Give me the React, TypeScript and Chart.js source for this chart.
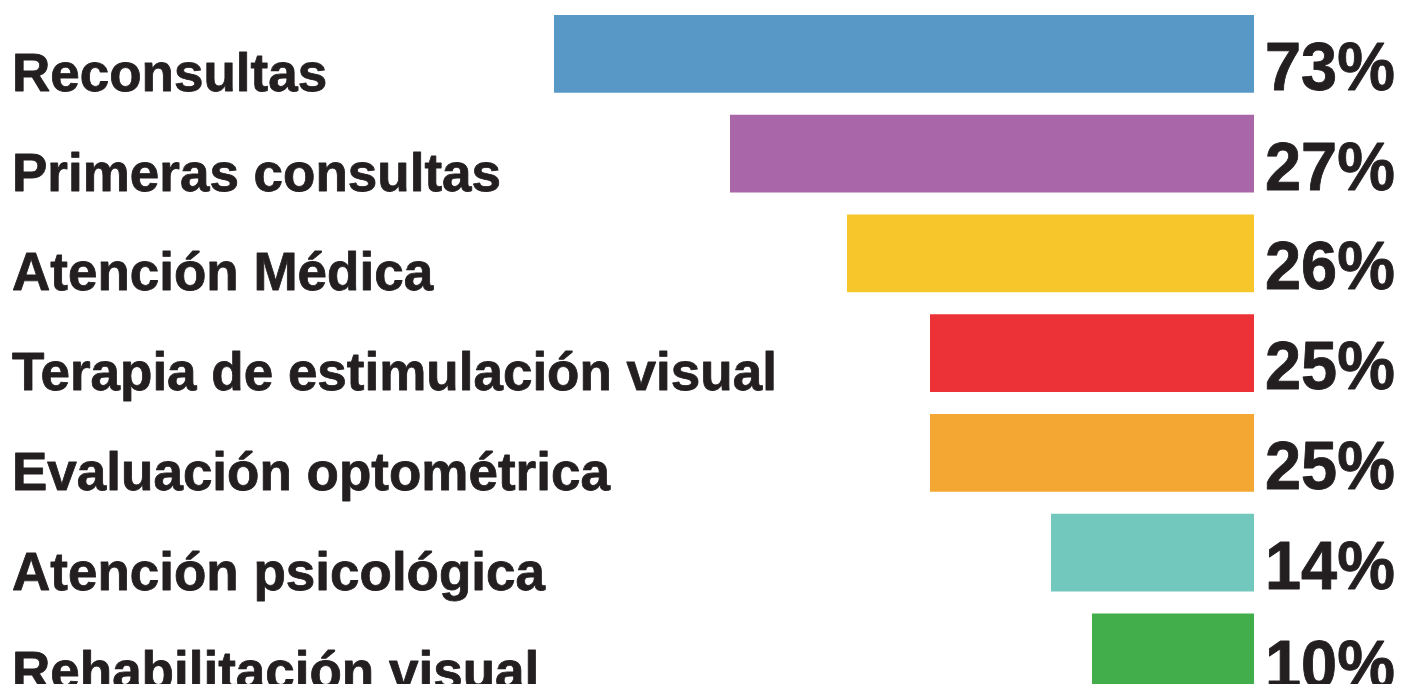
import React, { useEffect, useRef } from "react";
import { Chart, registerables } from "chart.js";

Chart.register(...registerables);

const categories = [
  "Reconsultas",
  "Primeras consultas",
  "Atención Médica",
  "Terapia de estimulación visual",
  "Evaluación optométrica",
  "Atención psicológica",
  "Rehabilitación visual",
];

// bar lengths as drawn (relative units)
const barLengths = [700, 524, 407, 324, 324, 203, 162];

const percentLabels = ["73%", "27%", "26%", "25%", "25%", "14%", "10%"];

const barColors = [
  "#5898c7",
  "#a967aa",
  "#f6c62b",
  "#ec3237",
  "#f5a733",
  "#72c8bd",
  "#41ae4b",
];

const TEXT_COLOR = "#231f20";

const sideLabels = {
  id: "sideLabels",
  afterDatasetsDraw(chart: any) {
    const { ctx, chartArea, scales } = chart;
    const yScale = scales.y;
    ctx.save();
    ctx.fillStyle = TEXT_COLOR;
    ctx.strokeStyle = TEXT_COLOR;
    ctx.lineJoin = "round";
    ctx.textBaseline = "alphabetic";
    categories.forEach((name, i) => {
      const cy = yScale.getPixelForValue(i);
      ctx.font = "bold 53px 'Liberation Sans', Arial, sans-serif";
      ctx.textAlign = "left";
      ctx.lineWidth = 0.8;
      ctx.fillText(name, 12, cy + 37);
      ctx.strokeText(name, 12, cy + 37);

      ctx.save();
      ctx.translate(chartArea.right + 11, cy + 36);
      ctx.scale(0.94, 1);
      ctx.font = "bold 69px 'Liberation Sans', Arial, sans-serif";
      ctx.textAlign = "left";
      ctx.lineWidth = 0.9;
      ctx.fillText(percentLabels[i], 0, 0);
      ctx.strokeText(percentLabels[i], 0, 0);
      ctx.restore();
    });
    ctx.restore();
  },
};

export default function App() {
  const canvasRef = useRef<HTMLCanvasElement | null>(null);

  useEffect(() => {
    if (!canvasRef.current) return;
    const chart = new Chart(canvasRef.current, {
      type: "bar",
      data: {
        labels: categories,
        datasets: [
          {
            data: barLengths,
            backgroundColor: barColors,
            borderWidth: 0,
            categoryPercentage: 1,
            barPercentage: 0.78,
          },
        ],
      },
      options: {
        indexAxis: "y",
        responsive: false,
        animation: false,
        devicePixelRatio: 1,
        layout: {
          padding: { left: 14, right: 149, top: 4, bottom: 17.7 },
        },
        plugins: {
          legend: { display: false },
          tooltip: { enabled: false },
          title: { display: false },
        },
        scales: {
          x: {
            type: "linear",
            min: 0,
            max: 1240,
            reverse: true,
            display: false,
            grid: { display: false },
          },
          y: {
            display: false,
            grid: { display: false },
          },
        },
      },
      plugins: [sideLabels],
    });
    return () => chart.destroy();
  }, []);

  return (
    <div
      style={{
        position: "fixed",
        left: 0,
        top: 0,
        width: 1403,
        height: 684,
        overflow: "hidden",
        background: "#ffffff",
      }}
    >
      <canvas
        ref={canvasRef}
        width={1403}
        height={720}
        style={{ display: "block", width: 1403, height: 720 }}
      />
    </div>
  );
}
